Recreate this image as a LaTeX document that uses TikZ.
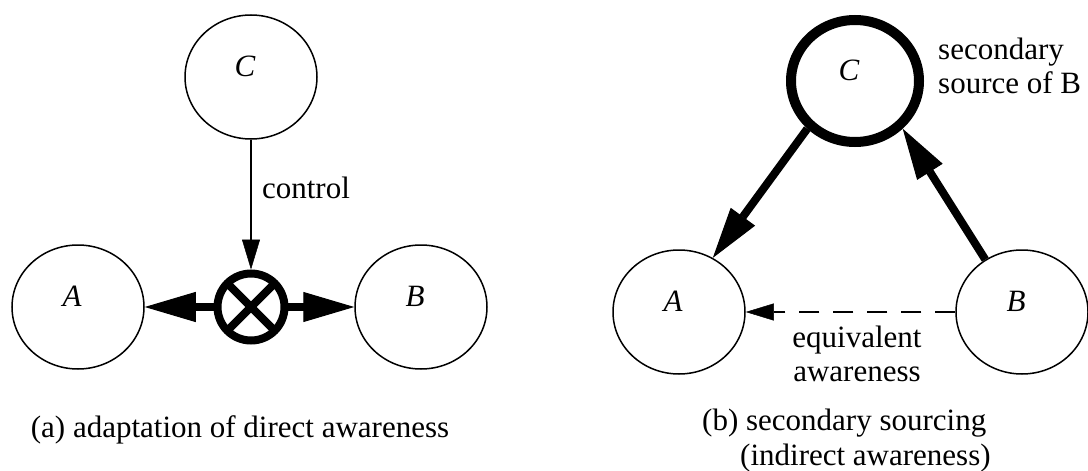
\documentclass[tikz,border=0pt]{standalone}
\usepackage{fontspec}
\setmainfont{Liberation Serif}
\usetikzlibrary{arrows.meta,shapes.geometric}
\begin{document}
\begin{tikzpicture}[x=1pt,y=-1pt,
  font=\fontsize{31}{34}\selectfont,
  every node/.style={inner sep=0pt},
  thinnode/.style={ellipse,draw,line width=1.5pt,minimum width=132pt,minimum height=124pt,inner sep=0pt},
  thicknode/.style={ellipse,draw,line width=10pt,minimum width=128pt,minimum height=122pt,inner sep=0pt},
  letter/.style={font=\fontsize{31}{34}\selectfont\itshape,xshift=-6pt,yshift=11pt},
  valve/.style={circle,draw,line width=8pt,minimum size=67pt,inner sep=0pt,outer sep=4pt,
    path picture={\draw[line width=8pt] (path picture bounding box.south west) -- (path picture bounding box.north east)
      (path picture bounding box.north west) -- (path picture bounding box.south east);}},
  thinarrow/.style={line width=1.5pt,-{Triangle[length=30pt,width=18pt,line width=0.5pt]}},
  thickarrow/.style={line width=8pt,line cap=rect,-{Triangle[length=51pt,width=30pt,line width=1pt]}},
  dasharrow/.style={line width=1.5pt,dash pattern=on 20pt off 14pt,-{Triangle[length=28pt,width=17pt,line width=0.5pt]}}
]
\useasboundingbox (0,0) rectangle (1088,471);
% left panel
\node[thinnode,label={[letter]center:C}] (lC) at (251,77) {};
\node[thinnode,label={[letter]center:A}] (lA) at (78,307) {};
\node[thinnode,label={[letter]center:B}] (lB) at (421,307) {};
\node[valve] (V) at (251,307) {};
\draw[thinarrow] (lC.south) -- (V.north);
\draw[thickarrow] (V.west) -- (lA.east);
\draw[thickarrow] (V.east) -- (lB.west);
\node (ctl) at (306,188) {control};
\node (capa) at (240,430) {(a) adaptation of direct awareness};
% right panel
\node[thicknode,label={[letter]center:C}] (rC) at (855,81) {};
\node[thinnode,label={[letter]center:A}] (rA) at (679,312) {};
\node[thinnode,label={[letter]center:B}] (rB) at (1022,312) {};
\draw[thickarrow,line cap=butt] (rC.225) -- (rA.58);
\draw[thickarrow,line cap=butt] (rB.125) -- (rC.-45);
\draw[dasharrow] (rB.west) -- (rA.east);
\node[align=left,anchor=west] (sec) at (938,66) {secondary\\source of B};
\node[align=center] (eq) at (857,354) {equivalent\\awareness};
\node[anchor=west] (capb1) at (702,423) {(b) secondary sourcing};
\node[anchor=west] (capb2) at (740,458) {(indirect awareness)};
\end{tikzpicture}
\end{document}
